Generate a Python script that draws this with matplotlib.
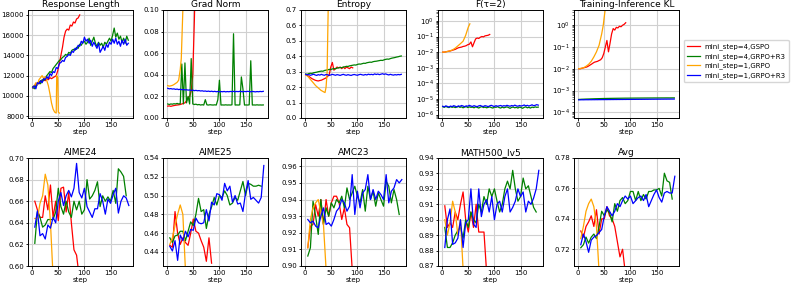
import numpy as np
import matplotlib
matplotlib.use('Agg')
from matplotlib import pyplot as plt
from matplotlib.ticker import LogLocator

# ---- training curves (top row), logged every 3 steps ----
steps3 = np.arange(1, 185, 3)

resp_blue = [10800, 11000, 10700, 11300, 11200, 11500, 11300, 11700, 11600, 11900, 11700, 12200, 12000, 12400,
             12300, 12800, 12700, 13200, 13300, 13500, 13400, 13800, 13900, 14100, 14000, 14400, 14300, 14700,
             14600, 15000, 14900, 15400, 15200, 15800, 15400, 15600, 15200, 15500, 14900, 15300, 15000, 14700,
             15200, 14300, 14600, 14900, 14500, 15100, 14800, 15300, 15100, 15600, 15200, 15700, 15100, 15400,
             14900, 15500, 15100, 15600, 15000, 15200]
resp_green = [10900, 10700, 11000, 11100, 11400, 11200, 11600, 11500, 11800, 12000, 12200, 12400, 12300, 12700,
              12900, 13100, 13300, 13500, 13600, 13800, 13900, 14100, 14000, 14300, 14200, 14500, 14600, 14500,
              14800, 14700, 15100, 15000, 15300, 15400, 15100, 15300, 15700, 15000, 15400, 15800, 15200, 14900,
              15300, 15000, 15200, 14800, 15300, 15100, 15400, 15700, 15400, 16000, 16700, 15800, 16200, 15600,
              15900, 15300, 15700, 15200, 15900, 15500]
resp_red = [10800, 11000, 11100, 11300, 11200, 11500, 11400, 11600, 11500, 11700, 11600, 11800, 11700, 11800,
            11900, 12000, 12500, 13200, 14000, 14800, 15800, 16400, 16600, 16500, 17000, 16900, 17300, 17200,
            17600, 17700, 18000]
orange_resp_steps = [1, 4, 7, 10, 13, 16, 19, 22, 25, 28, 31, 34, 37, 40, 43, 46, 47, 49, 50, 52]
resp_orange = [10800, 11000, 11300, 11100, 11600, 11800, 12000, 11700, 11900, 11500, 11000, 10200, 9300, 8700,
               8400, 8300, 12000, 11800, 8400, 8300]

grad_blue = [0.0275, 0.027, 0.0272, 0.0268, 0.027, 0.0265, 0.0268, 0.0263, 0.0266, 0.0262, 0.0264, 0.026,
             0.0262, 0.0258, 0.026, 0.0255, 0.0258, 0.0253, 0.0256, 0.0252, 0.0254, 0.025, 0.0252, 0.0248,
             0.025, 0.0246, 0.0249, 0.0245, 0.0248, 0.0244, 0.0247, 0.0243, 0.0246, 0.0242, 0.0245, 0.0243,
             0.0246, 0.0242, 0.0245, 0.0243, 0.0246, 0.0244, 0.0247, 0.0243, 0.0246, 0.0244, 0.0247, 0.0245,
             0.0243, 0.0246, 0.0244, 0.0247, 0.0245, 0.0243, 0.0246, 0.0244, 0.0242, 0.0245, 0.0243, 0.0246,
             0.0244, 0.0247]
grad_green = [0.013, 0.0125, 0.013, 0.0128, 0.0132, 0.013, 0.0135, 0.013, 0.0133, 0.05, 0.013, 0.051, 0.014,
              0.02, 0.013, 0.055, 0.013, 0.0125, 0.0128, 0.0122, 0.0125, 0.012, 0.0123, 0.012, 0.017, 0.0122,
              0.012, 0.0123, 0.0121, 0.012, 0.0122, 0.012, 0.017, 0.035, 0.012, 0.0121, 0.012, 0.0122, 0.012,
              0.0121, 0.012, 0.0122, 0.078, 0.012, 0.0121, 0.012, 0.0122, 0.038, 0.027, 0.012, 0.0121, 0.012,
              0.0122, 0.053, 0.012, 0.0121, 0.012, 0.0122, 0.012, 0.0121, 0.012, 0.0121]
grad_red = [0.011, 0.0112, 0.0108, 0.0112, 0.0115, 0.0118, 0.012, 0.0122, 0.0125, 0.013, 0.0135, 0.014, 0.016,
            0.019, 0.02, 0.025, 0.04, 0.09, 0.15]
orange_grad_steps = [1, 4, 7, 10, 13, 16, 19, 22, 25, 27, 28, 30, 31]
grad_orange = [0.03, 0.0295, 0.0298, 0.0302, 0.031, 0.032, 0.033, 0.035, 0.045, 0.055, 0.07, 0.1, 0.13]

ent_blue = [0.283, 0.279, 0.281, 0.277, 0.28, 0.284, 0.279, 0.276, 0.281, 0.278, 0.283, 0.279, 0.277, 0.282,
            0.28, 0.276, 0.279, 0.283, 0.28, 0.277, 0.281, 0.279, 0.276, 0.28, 0.283, 0.279, 0.277, 0.281,
            0.278, 0.276, 0.28, 0.282, 0.279, 0.277, 0.281, 0.283, 0.28, 0.278, 0.282, 0.279, 0.284, 0.281,
            0.283, 0.28, 0.286, 0.282, 0.285, 0.281, 0.284, 0.287, 0.283, 0.286, 0.282, 0.279, 0.283, 0.28,
            0.278, 0.281, 0.279, 0.282, 0.28, 0.283]
ent_green = [0.285, 0.283, 0.288, 0.29, 0.289, 0.293, 0.295, 0.297, 0.3, 0.302, 0.304, 0.303, 0.308, 0.31,
             0.312, 0.315, 0.314, 0.318, 0.32, 0.319, 0.323, 0.325, 0.327, 0.326, 0.33, 0.332, 0.335, 0.334,
             0.338, 0.34, 0.342, 0.344, 0.343, 0.347, 0.35, 0.349, 0.352, 0.355, 0.354, 0.358, 0.36, 0.362,
             0.361, 0.365, 0.367, 0.368, 0.37, 0.372, 0.374, 0.373, 0.377, 0.38, 0.382, 0.381, 0.385, 0.388,
             0.39, 0.392, 0.395, 0.397, 0.4, 0.402]
ent_red = [0.28, 0.275, 0.27, 0.262, 0.255, 0.25, 0.245, 0.242, 0.24, 0.243, 0.245, 0.25, 0.255, 0.26, 0.27,
           0.28, 0.33, 0.36, 0.31, 0.32, 0.33, 0.325, 0.33, 0.32, 0.33, 0.32, 0.33, 0.325, 0.32, 0.33, 0.325]
orange_ent_steps = [1, 5, 10, 15, 20, 25, 30, 35, 38, 40, 42, 43, 44, 45]
ent_orange = [0.28, 0.27, 0.25, 0.23, 0.21, 0.195, 0.18, 0.17, 0.165, 0.2, 0.3, 0.5, 0.7, 0.8]

f_blue = [3.4, 3.1, 3.6, 3.3, 3.0, 3.5, 3.2, 3.7, 3.4, 3.1, 3.6, 3.3, 3.8, 3.5, 3.2, 3.6, 3.4, 3.9, 3.5, 3.3,
          3.7, 3.4, 3.2, 3.6, 3.8, 3.4, 3.3, 3.7, 3.5, 3.2, 3.6, 3.9, 3.5, 3.3, 3.7, 3.4, 3.6, 3.8, 3.4, 3.7,
          3.5, 3.9, 3.6, 3.4, 3.8, 3.5, 4.0, 3.6, 3.4, 3.8, 3.5, 3.7, 4.1, 3.6, 3.9, 3.5, 3.8, 4.2, 3.7, 3.9,
          4.3, 4.0]
f_green = [3.2, 2.9, 3.3, 3.0, 2.8, 3.2, 2.9, 3.1, 2.8, 3.0, 3.3, 2.9, 3.1, 2.7, 3.0, 3.2, 2.8, 3.1, 2.9, 3.0,
           2.7, 3.1, 2.9, 2.6, 3.0, 3.2, 2.8, 3.0, 2.7, 2.9, 3.1, 2.8, 2.6, 3.0, 2.9, 3.2, 2.8, 2.6, 3.0, 2.7,
           2.9, 3.1, 2.8, 2.5, 2.9, 3.0, 2.7, 2.9, 2.6, 3.0, 2.8, 2.5, 2.9, 3.1, 2.7, 2.9, 2.6, 3.0, 2.8, 3.1,
           2.9, 3.0]
f_red = [1.0e-2, 1.0e-2, 1.05e-2, 1.1e-2, 1.15e-2, 1.2e-2, 1.3e-2, 1.4e-2, 1.5e-2, 1.7e-2, 1.9e-2, 2.0e-2,
         2.1e-2, 2.3e-2, 2.4e-2, 2.6e-2, 3.0e-2, 3.2e-2, 4.5e-2, 2.2e-2, 4.0e-2, 7.0e-2, 8.0e-2, 7.5e-2, 9e-2,
         1.0e-1, 9.5e-2, 1.1e-1, 1.15e-1, 1.2e-1, 1.35e-1]
orange_f_steps = [1, 5, 10, 15, 20, 25, 30, 35, 40, 45, 48, 50, 53]
f_orange = [1e-2, 1.0e-2, 1.1e-2, 1.2e-2, 1.4e-2, 1.8e-2, 2.5e-2, 3.5e-2, 5e-2, 1.2e-1, 2.5e-1, 4e-1, 6.5e-1]

kl_blue = [3.75, 3.76, 3.78, 3.77, 3.79, 3.8, 3.79, 3.81, 3.8, 3.82, 3.81, 3.83, 3.82, 3.84, 3.83, 3.85, 3.84,
           3.86, 3.85, 3.87, 3.86, 3.88, 3.87, 3.89, 3.88, 3.9, 3.89, 3.91, 3.9, 3.92, 3.91, 3.93, 3.92, 3.94,
           3.93, 3.95, 3.94, 3.96, 3.95, 3.97, 3.96, 3.98, 3.97, 3.99, 3.98, 4.0, 3.99, 4.01, 4.0, 4.02, 4.01,
           4.03, 4.02, 4.04, 4.03, 4.05, 4.04, 4.06, 4.05, 4.07, 4.06, 4.08]
kl_green = [3.9, 3.95, 4.0, 4.02, 4.05, 4.08, 4.1, 4.12, 4.15, 4.17, 4.2, 4.22, 4.24, 4.26, 4.28, 4.3, 4.32,
            4.33, 4.35, 4.36, 4.38, 4.39, 4.4, 4.41, 4.42, 4.43, 4.44, 4.45, 4.46, 4.47, 4.48, 4.48, 4.49, 4.5,
            4.5, 4.51, 4.52, 4.52, 4.53, 4.53, 4.54, 4.54, 4.55, 4.55, 4.56, 4.56, 4.57, 4.57, 4.58, 4.58, 4.58,
            4.59, 4.59, 4.6, 4.6, 4.6, 4.61, 4.61, 4.6, 4.61, 4.62, 4.62]
kl_red = [1.0e-2, 1.0e-2, 1.05e-2, 1.1e-2, 1.15e-2, 1.2e-2, 1.3e-2, 1.45e-2, 1.6e-2, 1.8e-2, 2.0e-2, 2.1e-2,
          2.2e-2, 2.4e-2, 2.6e-2, 3.2e-2, 5e-2, 1.0e-1, 2.0e-1, 6e-2, 1.5e-1, 4e-1, 7e-1, 6e-1, 8e-1, 7.5e-1,
          9e-1, 8.5e-1, 1.0, 1.1, 1.3]
orange_kl_steps = [1, 5, 10, 15, 20, 25, 30, 35, 40, 45, 48, 50, 52]
kl_orange = [1e-2, 1.05e-2, 1.1e-2, 1.3e-2, 1.6e-2, 2.2e-2, 3.5e-2, 6e-2, 1.2e-1, 4e-1, 1.0, 2.5, 6]

# ---- eval curves (bottom row), every 5 steps ----
eval_steps = np.arange(5, 190, 5)

aime24_blue = [0.636, 0.651, 0.628, 0.630, 0.625, 0.638, 0.635, 0.645, 0.640, 0.660, 0.668, 0.656, 0.665,
               0.670, 0.664, 0.672, 0.695, 0.668, 0.663, 0.672, 0.655, 0.650, 0.645, 0.653, 0.653, 0.667,
               0.660, 0.648, 0.662, 0.658, 0.666, 0.672, 0.649, 0.660, 0.665, 0.663, 0.656]
aime24_green = [0.621, 0.650, 0.645, 0.636, 0.638, 0.643, 0.643, 0.643, 0.650, 0.672, 0.655, 0.648, 0.660,
                0.650, 0.645, 0.660, 0.652, 0.660, 0.648, 0.652, 0.680, 0.662, 0.665, 0.670, 0.678, 0.655,
                0.665, 0.660, 0.664, 0.660, 0.670, 0.658, 0.690, 0.687, 0.683, 0.665]
aime24_red = [0.660, 0.652, 0.645, 0.645, 0.665, 0.652, 0.675, 0.645, 0.660, 0.642, 0.672, 0.673, 0.650,
              0.668, 0.640, 0.615, 0.610, 0.590]
aime24_orange = [0.644, 0.644, 0.658, 0.665, 0.685, 0.675, 0.640, 0.590]

aime25_blue = [0.446, 0.441, 0.452, 0.431, 0.458, 0.452, 0.462, 0.456, 0.464, 0.463, 0.476, 0.471, 0.470,
               0.471, 0.485, 0.473, 0.493, 0.490, 0.502, 0.501, 0.495, 0.513, 0.505, 0.510, 0.493, 0.500,
               0.491, 0.492, 0.483, 0.503, 0.516, 0.496, 0.498, 0.495, 0.492, 0.498, 0.532]
aime25_green = [0.455, 0.450, 0.457, 0.458, 0.462, 0.462, 0.452, 0.462, 0.472, 0.468, 0.480, 0.497, 0.483,
                0.485, 0.465, 0.480, 0.488, 0.498, 0.490, 0.500, 0.498, 0.505, 0.500, 0.490, 0.492, 0.498,
                0.495, 0.505, 0.515, 0.500, 0.513, 0.512, 0.510, 0.510, 0.511, 0.510]
aime25_red = [0.447, 0.445, 0.483, 0.460, 0.448, 0.455, 0.450, 0.447, 0.460, 0.475, 0.462, 0.460, 0.452,
              0.445, 0.430, 0.455, 0.428]
aime25_orange = [0.448, 0.455, 0.468, 0.480, 0.490, 0.480, 0.420]

amc23_blue = [0.928, 0.926, 0.927, 0.924, 0.923, 0.930, 0.935, 0.925, 0.926, 0.924, 0.928, 0.933, 0.935,
              0.940, 0.938, 0.933, 0.936, 0.955, 0.931, 0.945, 0.935, 0.944, 0.946, 0.955, 0.940, 0.946,
              0.940, 0.945, 0.943, 0.940, 0.955, 0.938, 0.945, 0.947, 0.952, 0.950, 0.952]
amc23_green = [0.906, 0.911, 0.939, 0.930, 0.919, 0.940, 0.925, 0.935, 0.930, 0.938, 0.935, 0.940, 0.938,
               0.942, 0.935, 0.947, 0.940, 0.944, 0.948, 0.942, 0.938, 0.946, 0.933, 0.948, 0.940, 0.945,
               0.936, 0.944, 0.940, 0.936, 0.951, 0.948, 0.938, 0.946, 0.940, 0.931]
amc23_red = [0.911, 0.924, 0.925, 0.937, 0.930, 0.940, 0.925, 0.940, 0.930, 0.938, 0.942, 0.942, 0.938,
             0.928, 0.935, 0.925, 0.923, 0.898]
amc23_orange = [0.911, 0.928, 0.935, 0.938, 0.940, 0.932, 0.925, 0.898]

math_blue = [0.882, 0.900, 0.907, 0.884, 0.885, 0.888, 0.900, 0.882, 0.898, 0.900, 0.920, 0.897, 0.895, 0.920,
             0.902, 0.910, 0.913, 0.905, 0.915, 0.900, 0.910, 0.912, 0.905, 0.915, 0.920, 0.905, 0.908, 0.912,
             0.920, 0.915, 0.918, 0.905, 0.912, 0.910, 0.914, 0.920, 0.932]
math_green = [0.895, 0.882, 0.882, 0.885, 0.890, 0.893, 0.895, 0.888, 0.900, 0.895, 0.905, 0.900, 0.898,
              0.910, 0.905, 0.915, 0.910, 0.920, 0.915, 0.920, 0.912, 0.905, 0.910, 0.920, 0.925, 0.920,
              0.932, 0.920, 0.912, 0.915, 0.927, 0.920, 0.922, 0.915, 0.908, 0.905]
math_red = [0.909, 0.895, 0.898, 0.895, 0.905, 0.900, 0.910, 0.918, 0.900, 0.892, 0.905, 0.895, 0.910, 0.892,
            0.892, 0.892, 0.866]
math_orange = [0.900, 0.890, 0.898, 0.912, 0.905, 0.890, 0.900, 0.868]

avg_blue = [0.723, 0.730, 0.725, 0.718, 0.726, 0.728, 0.729, 0.731, 0.733, 0.742, 0.748, 0.745, 0.742, 0.745,
            0.750, 0.748, 0.752, 0.755, 0.753, 0.755, 0.750, 0.752, 0.754, 0.755, 0.752, 0.756, 0.748, 0.752,
            0.756, 0.759, 0.754, 0.751, 0.757, 0.758, 0.757, 0.757, 0.768]
avg_green = [0.721, 0.723, 0.728, 0.724, 0.728, 0.730, 0.727, 0.735, 0.745, 0.742, 0.746, 0.744, 0.738, 0.750,
             0.745, 0.752, 0.754, 0.750, 0.752, 0.758, 0.758, 0.752, 0.758, 0.752, 0.756, 0.753, 0.758, 0.758,
             0.759, 0.759, 0.760, 0.755, 0.770, 0.765, 0.764, 0.753]
avg_red = [0.732, 0.728, 0.735, 0.738, 0.742, 0.735, 0.746, 0.730, 0.740, 0.740, 0.748, 0.742, 0.740, 0.735,
           0.725, 0.715, 0.720, 0.705]
avg_orange = [0.727, 0.735, 0.745, 0.750, 0.753, 0.748, 0.735, 0.705]

labels = ['mini_step=4,GSPO', 'mini_step=4,GRPO+R3', 'mini_step=1,GRPO', 'mini_step=1,GRPO+R3']
colors = ['red', 'green', 'orange', 'blue']


def first(n):
    return steps3[:n]


top_panels = [
    ('Response Length', [(first(len(resp_red)), resp_red), (steps3, resp_green),
                         (orange_resp_steps, resp_orange), (steps3, resp_blue)], None, False),
    ('Grad Norm', [(first(len(grad_red)), grad_red), (steps3, grad_green),
                   (orange_grad_steps, grad_orange), (steps3, grad_blue)], (0, 0.1), False),
    ('Entropy', [(first(len(ent_red)), ent_red), (steps3, ent_green),
                 (orange_ent_steps, ent_orange), (steps3, ent_blue)], (0, 0.7), False),
    ('F(τ=2)', [(first(len(f_red)), f_red), (steps3, np.array(f_green) * 1e-6),
                (orange_f_steps, f_orange), (steps3, np.array(f_blue) * 1e-6)], (6e-7, 5), True),
    ('Training-Inference KL', [(first(len(kl_red)), kl_red), (steps3, np.array(kl_green) * 1e-4),
                               (orange_kl_steps, kl_orange), (steps3, np.array(kl_blue) * 1e-4)],
     (5.5e-5, 5), True),
]

bottom_panels = [
    ('AIME24', [aime24_red, aime24_green, aime24_orange, aime24_blue], (0.60, 0.70)),
    ('AIME25', [aime25_red, aime25_green, aime25_orange, aime25_blue], (0.425, 0.54)),
    ('AMC23', [amc23_red, amc23_green, amc23_orange, amc23_blue], (0.90, 0.965)),
    ('MATH500_lv5', [math_red, math_green, math_orange, math_blue], (0.87, 0.94)),
    ('Avg', [avg_red, avg_green, avg_orange, avg_blue], (0.709, 0.78)),
]

W, H = 793, 287
fig = plt.figure(figsize=(W / 100, H / 100), dpi=100)
lefts = [28, 163, 301, 438, 574]
aw, ah = 105, 108


def style(ax, title):
    ax.set_title(title, fontsize=6.5, pad=2)
    ax.set_xlabel('step', fontsize=5, labelpad=0.5)
    ax.tick_params(labelsize=5, length=1.8, width=0.6, pad=1)
    ax.tick_params(which='minor', length=1.1, width=0.4)
    ax.grid(True, color='#d0d0d0', linewidth=0.8)
    ax.set_axisbelow(True)
    ax.set_xticks([0, 50, 100, 150])
    ax.set_xlim(-8, 193)
    for s in ax.spines.values():
        s.set_linewidth(0.7)


for i, (title, series, ylim, logy) in enumerate(top_panels):
    ax = fig.add_axes([lefts[i] / W, 1 - 118 / H, aw / W, ah / H])
    for (x, y), c, lab in zip(series, colors, labels):
        ax.plot(x, y, color=c, linewidth=0.9, label=lab)
    if logy:
        ax.set_yscale('log')
        ax.yaxis.set_major_locator(LogLocator(base=10, numticks=12))
    if ylim is not None:
        ax.set_ylim(*ylim)
    style(ax, title)

for i, (title, series, ylim) in enumerate(bottom_panels):
    ax = fig.add_axes([lefts[i] / W, 1 - 266 / H, aw / W, ah / H])
    for y, c in zip(series, colors):
        ax.plot(eval_steps[:len(y)], y, color=c, linewidth=0.9)
    ax.set_ylim(*ylim)
    style(ax, title)

handles = fig.axes[0].get_lines()
fig.legend(handles, labels, loc='upper left', bbox_to_anchor=(684 / W, 1 - 40 / H),
           fontsize=5, frameon=True, borderaxespad=0, handlelength=1.8, handletextpad=0.6,
           borderpad=0.5, labelspacing=0.4)

fig.savefig('out.png', dpi=100)
